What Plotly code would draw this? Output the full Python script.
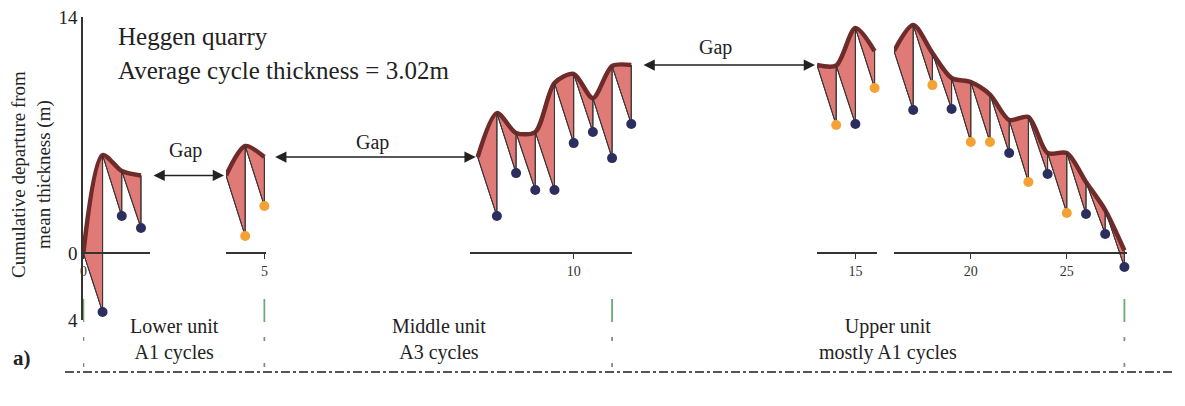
import plotly.graph_objects as go

W, H = 1185, 406

# ---------------- data ----------------
cycles = list(range(29))
cum_top = [0.00, 5.81, 4.86, 4.60, 6.35, 5.69, 8.30, 7.12, 7.18, 10.08, 10.62, 9.19, 11.09, 11.15,
           11.12, 13.35, 11.98, 13.52, 11.86, 10.38, 10.14, 9.40, 7.89, 8.07, 5.93, 5.93, 4.21, 2.55, 0.15]
cum_base = [None, -3.50, 2.19, 1.48, 1.01, 2.79, 2.19, 4.74, 3.74, 3.74, 6.52, 7.18, 5.63, 7.65,
            7.59, 7.65, 9.79, 8.48, 9.96, 8.54, 6.58, 6.58, 5.93, 4.21, 4.69, 2.37, 2.31, 1.13, -0.83]
cycle_group = [None, 'b', 'b', 'b', 'o', 'o', 'b', 'b', 'b', 'b', 'b', 'b', 'b', 'b',
               'o', 'b', 'o', 'b', 'o', 'b', 'o', 'o', 'b', 'o', 'b', 'o', 'b', 'b', 'b']
section_bounds = [0, 3, 5, 13, 16, 28]          # record sections separated by gaps
x_ticks = [[0], [5], [10], [15], [20, 25]]
y_ticks = [14, 0, -4]
y_ticktext = ["14", "0", "4"]
unit_boundaries = [0, 5, 12, 28]
unit_labels = ["Lower unit<br>A1 cycles", "Middle unit<br>A3 cycles", "Upper unit<br>mostly A1 cycles"]
title_lines = ["Heggen quarry", "Average cycle thickness = 3.02m"]

# ---------------- layout helpers ----------------
FONT = "Liberation Serif"
PPU = 19.2                       # pixels per cycle
Y_TOP_PX, Y_ZERO_PX = 17, 253
Y_RANGE = [-4, 14]
ppy = (Y_ZERO_PX - Y_TOP_PX) / Y_RANGE[1]
Y_BOT_PX = Y_ZERO_PX - Y_RANGE[0] * ppy
sec_layout = [(83, -0.02, 3.47), (226, 3.0, 5.07), (470, 4.6, 13.05), (817, 13.0, 16.15), (894, 16.0, 28.15)]

FILL = "#df7a77"
ENV = "#6f2a2a"
SAW = "#3b3434"
COLS = {'b': "#2b2e5e", 'o': "#f4a233"}

def px(xp):
    return xp / W

def py(yp):
    return 1 - yp / H

fig = go.Figure()
layout_axes = {}
for s in range(len(section_bounds) - 1):
    a, b = section_bounds[s], section_bounds[s + 1]
    xa = 'x' if s == 0 else f'x{s + 1}'
    sx, sy = [cycles[a]], [cum_top[a]]
    for c in range(a + 1, b + 1):
        sx += [cycles[c], cycles[c]]
        sy += [cum_base[c], cum_top[c]]
    fig.add_trace(go.Scatter(x=sx, y=sy, mode='lines', line=dict(color=SAW, width=1),
                             xaxis=xa, yaxis='y', hoverinfo='skip', showlegend=False))
    fig.add_trace(go.Scatter(x=cycles[a:b + 1], y=cum_top[a:b + 1], mode='lines',
                             line=dict(color=ENV, width=4.5, shape='spline', smoothing=0.8),
                             fill='tonexty', fillcolor=FILL,
                             xaxis=xa, yaxis='y', hoverinfo='skip', showlegend=False))
    fig.add_trace(go.Scatter(x=sx, y=sy, mode='lines', line=dict(color=SAW, width=1),
                             xaxis=xa, yaxis='y', hoverinfo='skip', showlegend=False))
    fig.add_trace(go.Scatter(x=cycles[a + 1:b + 1], y=cum_base[a + 1:b + 1], mode='markers',
                             marker=dict(size=10, color=[COLS[g] for g in cycle_group[a + 1:b + 1]]),
                             cliponaxis=False, xaxis=xa, yaxis='y', hoverinfo='skip', showlegend=False))
    px0, r0, r1 = sec_layout[s]
    name = 'xaxis' if s == 0 else f'xaxis{s + 1}'
    layout_axes[name] = dict(
        domain=[px(px0), px(px0 + (r1 - r0) * PPU)], range=[r0, r1], anchor='free',
        position=py(Y_ZERO_PX), showline=True, linecolor='#333', linewidth=1.5,
        ticks='outside', ticklen=5, tickcolor='#333', tickvals=x_ticks[s],
        ticktext=[str(t) for t in x_ticks[s]], tickfont=dict(family=FONT, size=14, color='#333'),
        showgrid=False, zeroline=False, fixedrange=True, automargin=False)

layout_axes['yaxis'] = dict(
    domain=[py(Y_BOT_PX), py(Y_TOP_PX)], range=Y_RANGE, anchor='x', showline=True,
    linecolor='#333', linewidth=1.5, ticks='', tickvals=y_ticks, ticktext=y_ticktext,
    tickfont=dict(family=FONT, size=19, color='#222'), showgrid=False, zeroline=False,
    fixedrange=True, automargin=False)

annotations = []
# gap arrows: head at the start of the next section, tail at the end of the previous one
gap_arrows = [(2, 3, 150, 226), (3, 5, 272, 478), (4, 13, 640, 817)]
gap_text_pos = [(185, 150), (373, 143), (715, 47)]
for (ax_i, c, tail_px, head_px), (tx, ty) in zip(gap_arrows, gap_text_pos):
    annotations.append(dict(x=c, y=cum_top[c], xref=f'x{ax_i}', yref='y', text='',
                            showarrow=True, arrowhead=2, arrowside='end+start', arrowsize=1.5,
                            arrowwidth=1.5, arrowcolor='#222', ax=-(head_px - tail_px), ay=0,
                            standoff=2, startstandoff=2))
    annotations.append(dict(x=px(tx), y=py(ty), xref='paper', yref='paper', text='Gap',
                            xanchor='center', yanchor='middle',
                            showarrow=False, font=dict(family=FONT, size=20, color='#222')))

for t, yy in zip(title_lines, [37, 70]):
    annotations.append(dict(x=px(116), y=py(yy), xref='paper', yref='paper', text=t,
                            xanchor='left', yanchor='middle', showarrow=False,
                            font=dict(family=FONT, size=25, color='#222')))

annotations.append(dict(x=px(31), y=py(175), xref='paper', yref='paper',
                        text='Cumulative departure from<br>mean thickness (m)', textangle=-90,
                        xanchor='center', yanchor='middle',
                        showarrow=False, font=dict(family=FONT, size=19, color='#222')))

for lab, xc in zip(unit_labels, [174, 439, 888]):
    annotations.append(dict(x=px(xc), y=py(339), xref='paper', yref='paper', text=lab,
                            xanchor='center', yanchor='middle',
                            showarrow=False, font=dict(family=FONT, size=20, color='#222')))

annotations.append(dict(x=px(22), y=py(358), xref='paper', yref='paper', text='<b>a)</b>',
                        xanchor='center', yanchor='middle',
                        showarrow=False, font=dict(family=FONT, size=21, color='#222')))

shapes = []
for bc in unit_boundaries:
    s = next(i for i, (p0, r0, r1) in enumerate(sec_layout) if r0 <= bc <= r1)
    xr = 'x' if s == 0 else f'x{s + 1}'
    shapes.append(dict(type='line', xref=xr, yref='paper', x0=bc, x1=bc, y0=py(299), y1=py(322),
                       line=dict(color='#6fa870', width=1.8)))
    shapes.append(dict(type='line', xref=xr, yref='paper', x0=bc, x1=bc, y0=py(337), y1=py(368),
                       line=dict(color='#888', width=1.8, dash='4px,22px')))
shapes.append(dict(type='line', xref='paper', yref='paper', x0=px(65), x1=px(1175),
                   y0=py(372), y1=py(372), line=dict(color='#555', width=2, dash='dashdot')))

fig.update_layout(width=W, height=H, margin=dict(l=0, r=0, t=0, b=0, autoexpand=False),
                  autosize=False, paper_bgcolor='white', plot_bgcolor='rgba(0,0,0,0)',
                  showlegend=False, annotations=annotations, shapes=shapes, **layout_axes)

fig.write_html("out.html", config={'displayModeBar': False},
               post_script="document.body.style.margin='0px';document.body.style.overflow='hidden';")
